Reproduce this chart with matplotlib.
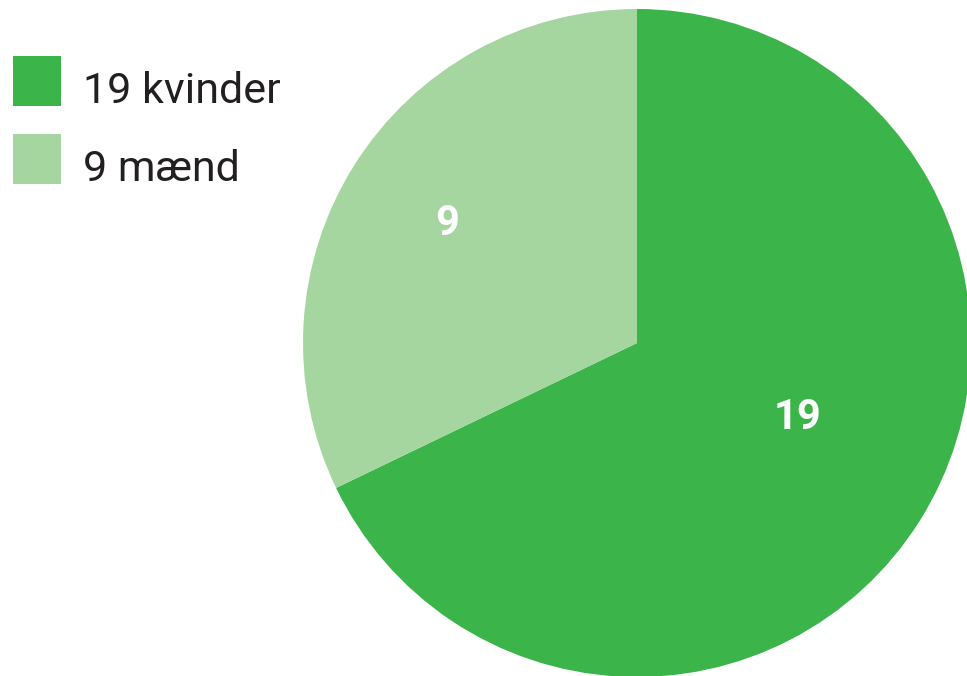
import numpy as np
import matplotlib.pyplot as plt
from matplotlib.patches import Patch

plt.rcParams['font.family'] = ['Roboto', 'DejaVu Sans']

counts = [19, 9]
labels = ['19 kvinder', '9 mænd']
colors = ['#3bb54a', '#a5d6a0']

# where the numbers sit inside each wedge: radial fraction and angular fraction
label_dist = [0.53, 0.67]
label_frac = [0.47, 0.5]

W, H = 967, 676
fig = plt.figure(figsize=(W / 100, H / 100), dpi=100)
ax = fig.add_axes([0, 0, 1, 1])

cx, cy, r = 637, H - 343, 334
wedges, _ = ax.pie(counts, colors=colors, startangle=90, counterclock=False,
                   center=(cx, cy), radius=r, frame=True,
                   wedgeprops=dict(linewidth=0))
ax.set_xlim(0, W)
ax.set_ylim(0, H)
ax.set_aspect('equal')
ax.axis('off')

for w, n, d, f in zip(wedges, counts, label_dist, label_frac):
    # counterclock=False -> theta2 is the start of the wedge
    a = np.deg2rad(w.theta2 - f * (w.theta2 - w.theta1))
    ax.text(cx + d * r * np.cos(a), cy + d * r * np.sin(a), str(n),
            color='white', fontsize=30, fontweight='bold',
            ha='center', va='center')

handles = [Patch(facecolor=c, edgecolor='none') for c in colors]
leg = fig.legend(handles, labels, loc='upper left', bbox_to_anchor=(13 / W, 1 - 56 / H),
                 frameon=False, fontsize=31, handlelength=1.12, handleheight=1.4,
                 handletextpad=0.5, labelspacing=0.66, borderpad=0, borderaxespad=0,
                 labelcolor='#231f20')
# text sits a little below the square's middle in the original
for t in leg.get_texts():
    t.set_y(-8)

fig.savefig('out.png', dpi=100)
